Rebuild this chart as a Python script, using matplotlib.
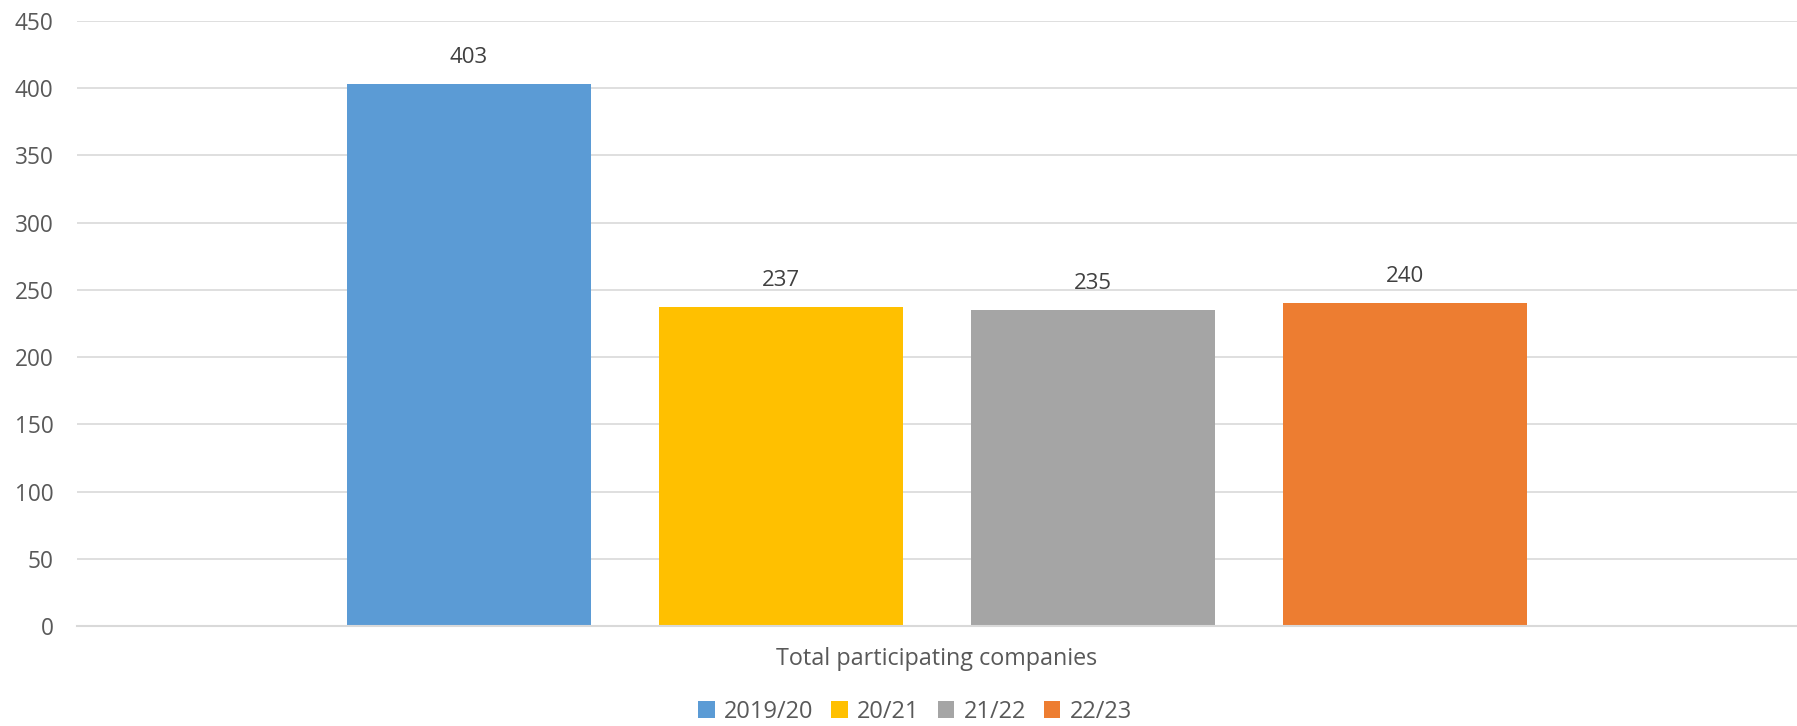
import matplotlib.pyplot as plt
from matplotlib.patches import Patch

# Данные
category = "Total participating companies"
seasons = ["2019/20", "20/21", "21/22", "22/23"]
companies = [403, 237, 235, 240]
colors = ["#5B9BD5", "#FFC000", "#A5A5A5", "#ED7D31"]

W, H, DPI = 1797, 726, 100

plt.rcParams.update({
    "font.family": ["Open Sans", "DejaVu Sans"],
    "text.color": "#595959",
})

fig = plt.figure(figsize=(W / DPI, H / DPI), dpi=DPI)
ax = fig.add_axes([77 / W, 1 - 626 / H, 1 - 77 / W, (626 - 21) / H])

width = 0.1424
step = 0.1814
for i, (season, val, col) in enumerate(zip(seasons, companies, colors)):
    x = (i - 1.5) * step
    ax.bar(x, val, width, color=col, zorder=3)
    ax.text(x, val + 12, str(val), ha="center", va="bottom",
            fontsize=16, color="#404040")

ax.set_xlim(-0.5, 0.5)
ax.set_ylim(0, 450)
ax.set_yticks(range(0, 451, 50))
ax.grid(axis="y", color="#D9D9D9", linewidth=1.2, zorder=0)
for s in ["top", "right", "left"]:
    ax.spines[s].set_visible(False)
ax.spines["bottom"].set_color("#D9D9D9")
ax.spines["bottom"].set_linewidth(1.5)
ax.spines["bottom"].set_zorder(4)

ax.set_xticks([0])
ax.set_xticklabels([category])
ax.tick_params(axis="x", length=0, pad=15, labelsize=16.8, labelcolor="#595959")
ax.tick_params(axis="y", length=0, pad=17, labelsize=16.3, labelcolor="#595959")

handles = [Patch(facecolor=c, edgecolor="none") for c in colors]
fig.legend(handles, seasons, loc="center", bbox_to_anchor=(915 / W, 1 - 712 / H),
           ncol=4, frameon=False, fontsize=17, handlelength=0.7, handleheight=0.7,
           handletextpad=0.4, columnspacing=0.75, labelcolor="#595959")

fig.savefig("out.png", dpi=DPI)
